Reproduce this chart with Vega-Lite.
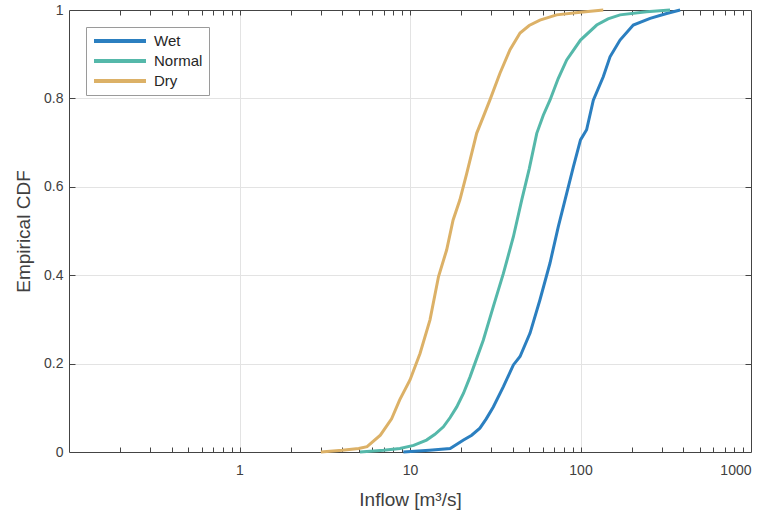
{
  "$schema": "https://vega.github.io/schema/vega-lite/v6.json",
  "autosize": {"type": "none"},
  "padding": {"left": 69, "top": 10, "right": 20, "bottom": 65},
  "width": 682,
  "height": 442,
  "background": "white",
  "config": {
    "font": "Liberation Sans",
    "view": {"stroke": null},
    "axis": {"labelFont": "Liberation Sans", "titleFont": "Liberation Sans", "labelColor": "#404040", "titleColor": "#404040", "titleFontWeight": "normal", "domainColor": "#444444", "tickColor": "#444444", "gridColor": "#e3e3e3", "gridWidth": 1}
  },
  "datasets": {
    "cdf": [
      {"series": "Wet", "inflow": 9.14, "cdf": 0},
      {"series": "Wet", "inflow": 13, "cdf": 0.004},
      {"series": "Wet", "inflow": 17.2, "cdf": 0.008},
      {"series": "Wet", "inflow": 20.6, "cdf": 0.027},
      {"series": "Wet", "inflow": 23, "cdf": 0.038},
      {"series": "Wet", "inflow": 25.7, "cdf": 0.054},
      {"series": "Wet", "inflow": 28, "cdf": 0.075},
      {"series": "Wet", "inflow": 30.8, "cdf": 0.102},
      {"series": "Wet", "inflow": 35.3, "cdf": 0.148},
      {"series": "Wet", "inflow": 40.4, "cdf": 0.197},
      {"series": "Wet", "inflow": 44.2, "cdf": 0.216},
      {"series": "Wet", "inflow": 50.6, "cdf": 0.269},
      {"series": "Wet", "inflow": 57.8, "cdf": 0.344},
      {"series": "Wet", "inflow": 66.2, "cdf": 0.427},
      {"series": "Wet", "inflow": 74.1, "cdf": 0.51},
      {"series": "Wet", "inflow": 81.1, "cdf": 0.57},
      {"series": "Wet", "inflow": 90.8, "cdf": 0.645},
      {"series": "Wet", "inflow": 100, "cdf": 0.706},
      {"series": "Wet", "inflow": 108.6, "cdf": 0.729},
      {"series": "Wet", "inflow": 118.9, "cdf": 0.796},
      {"series": "Wet", "inflow": 136, "cdf": 0.849},
      {"series": "Wet", "inflow": 149, "cdf": 0.894},
      {"series": "Wet", "inflow": 170.6, "cdf": 0.932},
      {"series": "Wet", "inflow": 204, "cdf": 0.966},
      {"series": "Wet", "inflow": 256, "cdf": 0.981},
      {"series": "Wet", "inflow": 320, "cdf": 0.992},
      {"series": "Wet", "inflow": 384, "cdf": 1.0},
      {"series": "Normal", "inflow": 5.09, "cdf": 0},
      {"series": "Normal", "inflow": 7, "cdf": 0.004},
      {"series": "Normal", "inflow": 8.73, "cdf": 0.008},
      {"series": "Normal", "inflow": 10.5, "cdf": 0.015},
      {"series": "Normal", "inflow": 12.5, "cdf": 0.027},
      {"series": "Normal", "inflow": 14, "cdf": 0.04},
      {"series": "Normal", "inflow": 15.7, "cdf": 0.057},
      {"series": "Normal", "inflow": 17.2, "cdf": 0.078},
      {"series": "Normal", "inflow": 18.8, "cdf": 0.102},
      {"series": "Normal", "inflow": 20.6, "cdf": 0.133},
      {"series": "Normal", "inflow": 22.5, "cdf": 0.17},
      {"series": "Normal", "inflow": 26.9, "cdf": 0.253},
      {"series": "Normal", "inflow": 30.8, "cdf": 0.329},
      {"series": "Normal", "inflow": 35.3, "cdf": 0.404},
      {"series": "Normal", "inflow": 40.4, "cdf": 0.487},
      {"series": "Normal", "inflow": 45.2, "cdf": 0.57},
      {"series": "Normal", "inflow": 50, "cdf": 0.64},
      {"series": "Normal", "inflow": 55.4, "cdf": 0.721},
      {"series": "Normal", "inflow": 60.5, "cdf": 0.762},
      {"series": "Normal", "inflow": 66.2, "cdf": 0.796},
      {"series": "Normal", "inflow": 74, "cdf": 0.845},
      {"series": "Normal", "inflow": 83, "cdf": 0.887},
      {"series": "Normal", "inflow": 100, "cdf": 0.932},
      {"series": "Normal", "inflow": 124.5, "cdf": 0.966},
      {"series": "Normal", "inflow": 145, "cdf": 0.98},
      {"series": "Normal", "inflow": 170.6, "cdf": 0.989},
      {"series": "Normal", "inflow": 244, "cdf": 0.996},
      {"series": "Normal", "inflow": 335, "cdf": 1.0},
      {"series": "Dry", "inflow": 3.0, "cdf": 0},
      {"series": "Dry", "inflow": 4.0, "cdf": 0.004},
      {"series": "Dry", "inflow": 5.0, "cdf": 0.008},
      {"series": "Dry", "inflow": 5.6, "cdf": 0.012},
      {"series": "Dry", "inflow": 6.7, "cdf": 0.038},
      {"series": "Dry", "inflow": 7.8, "cdf": 0.075},
      {"series": "Dry", "inflow": 8.7, "cdf": 0.118},
      {"series": "Dry", "inflow": 10, "cdf": 0.163},
      {"series": "Dry", "inflow": 11.45, "cdf": 0.223},
      {"series": "Dry", "inflow": 13.1, "cdf": 0.299},
      {"series": "Dry", "inflow": 14.7, "cdf": 0.397},
      {"series": "Dry", "inflow": 16.4, "cdf": 0.457},
      {"series": "Dry", "inflow": 17.9, "cdf": 0.525},
      {"series": "Dry", "inflow": 19.6, "cdf": 0.57},
      {"series": "Dry", "inflow": 21.5, "cdf": 0.63},
      {"series": "Dry", "inflow": 24.6, "cdf": 0.721},
      {"series": "Dry", "inflow": 27, "cdf": 0.76},
      {"series": "Dry", "inflow": 29.4, "cdf": 0.796},
      {"series": "Dry", "inflow": 33.7, "cdf": 0.857},
      {"series": "Dry", "inflow": 38.6, "cdf": 0.91},
      {"series": "Dry", "inflow": 44.2, "cdf": 0.948},
      {"series": "Dry", "inflow": 50, "cdf": 0.965},
      {"series": "Dry", "inflow": 57.8, "cdf": 0.977},
      {"series": "Dry", "inflow": 72.4, "cdf": 0.989},
      {"series": "Dry", "inflow": 100, "cdf": 0.995},
      {"series": "Dry", "inflow": 136, "cdf": 1.0}
    ],
    "anchor": [{"inflow": 1, "cdf": 0.5}]
  },
  "resolve": {"axis": {"x": "independent", "y": "independent"}},
  "layer": [
    {
      "data": {"name": "anchor"},
      "mark": {"type": "point", "opacity": 0},
      "encoding": {
        "x": {"field": "inflow", "type": "quantitative", "scale": {"type": "log", "domain": [0.1, 1000], "nice": false},
          "axis": {"orient": "bottom", "values": [1, 10, 100], "grid": true, "ticks": false, "labels": false, "domain": false, "title": null}},
        "y": {"field": "cdf", "type": "quantitative", "scale": {"domain": [0, 1], "nice": false, "zero": false},
          "axis": {"orient": "left", "values": [0.2, 0.4, 0.6, 0.8], "grid": true, "ticks": false, "labels": false, "domain": false, "title": null}}
      }
    },
    {
      "data": {"name": "anchor"},
      "mark": {"type": "point", "opacity": 0},
      "encoding": {
        "x": {"field": "inflow", "type": "quantitative", "scale": {"type": "log", "domain": [0.1, 1000], "nice": false},
          "axis": {"orient": "top", "values": [0.2, 0.3, 0.4, 0.5, 0.6, 0.7, 0.8, 0.9, 1, 2, 3, 4, 5, 6, 7, 8, 9, 10, 20, 30, 40, 50, 60, 70, 80, 90, 100, 200, 300, 400, 500, 600, 700, 800, 900], "grid": false, "ticks": true, "tickSize": -5, "labels": false, "domain": true, "title": null}},
        "y": {"field": "cdf", "type": "quantitative", "scale": {"domain": [0, 1], "nice": false, "zero": false},
          "axis": {"orient": "right", "values": [0.2, 0.4, 0.6, 0.8], "grid": false, "ticks": true, "tickSize": -6, "labels": false, "domain": true, "title": null}}
      }
    },
    {
      "data": {"name": "anchor"},
      "mark": {"type": "point", "opacity": 0},
      "encoding": {
        "x": {"field": "inflow", "type": "quantitative", "scale": {"type": "log", "domain": [0.1, 1000], "nice": false},
          "axis": {"orient": "bottom", "values": [0.2, 0.3, 0.4, 0.5, 0.6, 0.7, 0.8, 0.9, 1, 2, 3, 4, 5, 6, 7, 8, 9, 10, 20, 30, 40, 50, 60, 70, 80, 90, 100, 200, 300, 400, 500, 600, 700, 800, 900], "grid": false, "ticks": true, "tickSize": -5, "labels": false, "domain": true, "title": null}},
        "y": {"field": "cdf", "type": "quantitative", "scale": {"domain": [0, 1], "nice": false, "zero": false},
          "axis": {"orient": "left", "values": [0.2, 0.4, 0.6, 0.8], "grid": false, "ticks": true, "tickSize": -6, "labels": false, "domain": true, "title": null}}
      }
    },
    {
      "data": {"name": "cdf"},
      "mark": {"type": "line", "strokeWidth": 3, "interpolate": "linear"},
      "encoding": {
        "x": {"field": "inflow", "type": "quantitative", "scale": {"type": "log", "domain": [0.1, 1000], "nice": false},
          "axis": {"orient": "bottom", "values": [1, 10, 100, 1000], "format": "d", "grid": false, "ticks": false, "domain": false, "labelFontSize": 14, "labelPadding": 11, "title": "Inflow [m³/s]", "titleFontSize": 19, "titlePadding": 13}},
        "y": {"field": "cdf", "type": "quantitative", "scale": {"domain": [0, 1], "nice": false, "zero": false},
          "axis": {"orient": "left", "values": [0, 0.2, 0.4, 0.6, 0.8, 1], "format": "~g", "grid": false, "ticks": false, "domain": false, "labelFontSize": 14, "labelPadding": 6, "title": "Empirical CDF", "titleFontSize": 19, "titlePadding": 10}},
        "color": {"field": "series", "type": "nominal", "sort": ["Wet", "Normal", "Dry"],
          "scale": {"domain": ["Wet", "Normal", "Dry"], "range": ["#2b7fc0", "#55b8aa", "#dcb167"]},
          "legend": {"title": null, "orient": "top-left", "offset": 17, "padding": 6, "strokeColor": "#9a9a9a", "fillColor": "white", "symbolType": "stroke", "symbolSize": 2704, "symbolStrokeWidth": 4, "labelFontSize": 15, "labelFont": "Liberation Sans", "labelColor": "#262626", "labelOffset": 6, "rowPadding": 4,
            "encode": {"symbols": {"update": {"y": {"value": 8}, "strokeJoin": {"value": "bevel"}}}, "labels": {"update": {"y": {"value": 8}}}}}},
        "order": {"field": "inflow", "type": "quantitative"}
      }
    }
  ]
}
